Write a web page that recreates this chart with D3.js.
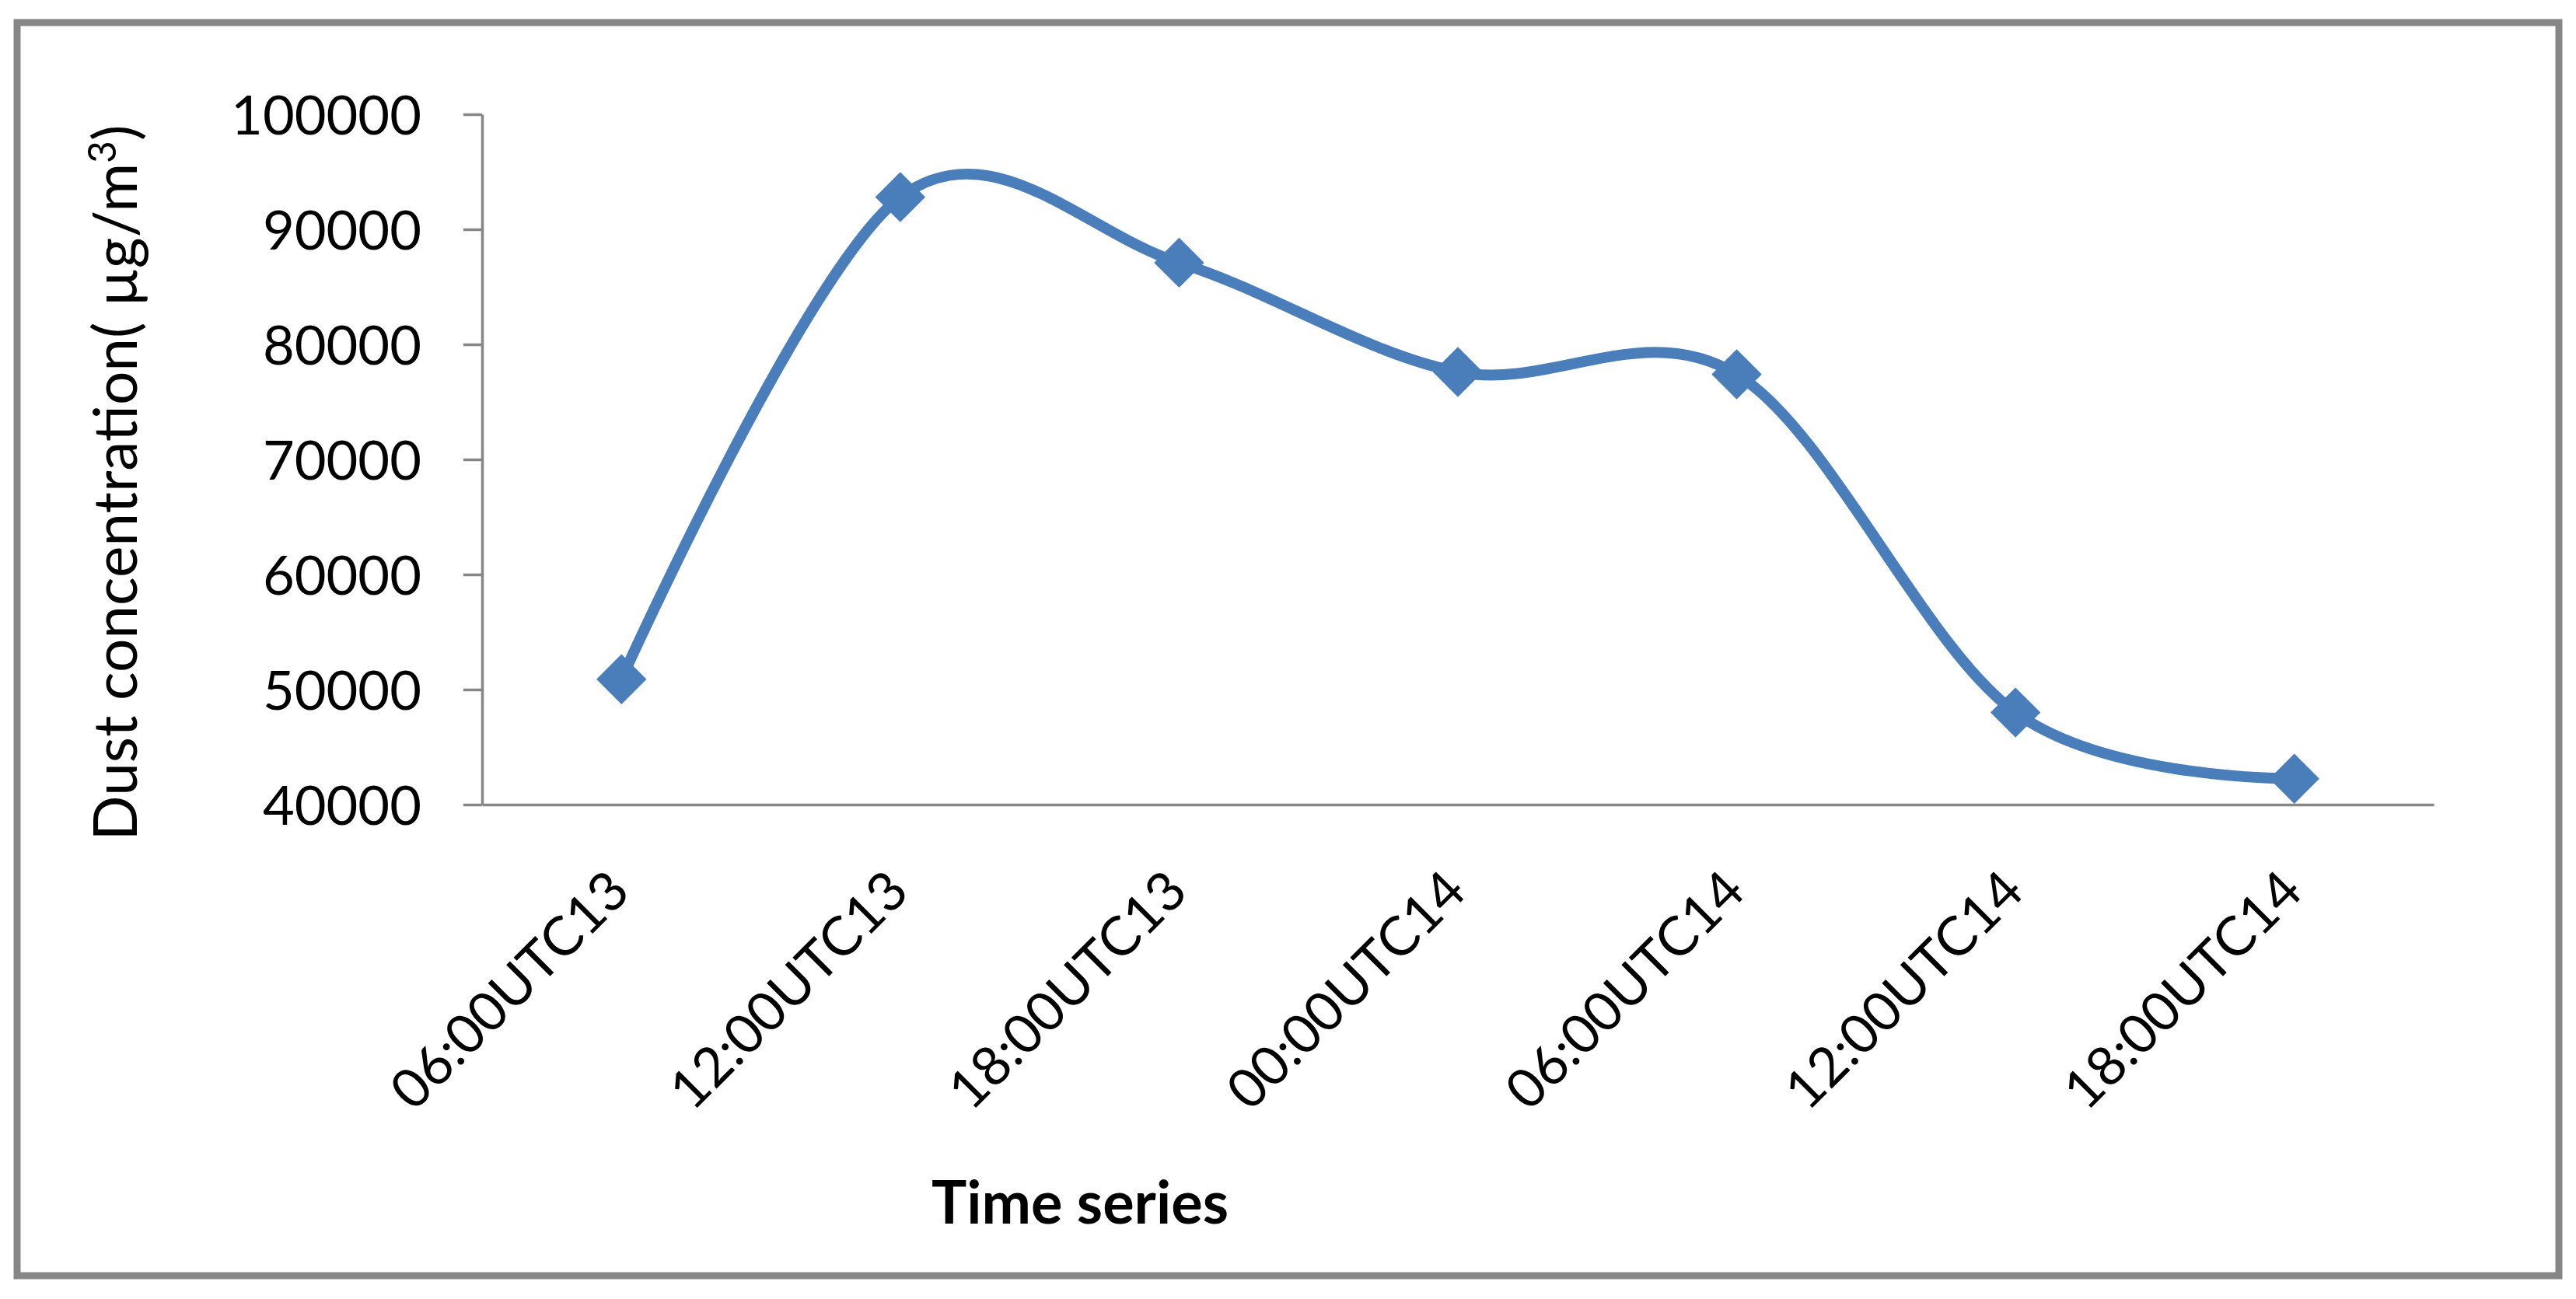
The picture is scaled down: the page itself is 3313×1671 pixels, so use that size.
<!DOCTYPE html>
<html>
<head>
<meta charset="utf-8">
<script src="https://cdn.jsdelivr.net/npm/d3@7"></script>
<style>
  html, body { margin: 0; padding: 0; background: #ffffff; }
  svg { display: block; }
</style>
</head>
<body>
<script>
// ---- data ----
const categories = ["06:00UTC13", "12:00UTC13", "18:00UTC13", "00:00UTC14", "06:00UTC14", "12:00UTC14", "18:00UTC14"];
const values = [50900, 92800, 87100, 77600, 77400, 48000, 42250];
const yTicks = [40000, 50000, 60000, 70000, 80000, 90000, 100000];
const yTitle = "Dust concentration( µg/m";
const yTitleSup = "3";
const yTitleEnd = ")";
const xTitle = "Time series";

// ---- layout ----
const W = 3313, H = 1671;
const plot = { left: 620, right: 3130, top: 147, bottom: 1035 };
const axisColor = "#868686";
const lineColor = "#4a7ebb";
const fontFam = "Lato, 'Open Sans', sans-serif";

const svg = d3.select("body").append("svg").attr("width", W).attr("height", H);
svg.append("rect").attr("width", W).attr("height", H).attr("fill", "#fff");

// outer frame
svg.append("rect")
  .attr("x", 22).attr("y", 29).attr("width", 3269).attr("height", 1612)
  .attr("fill", "none").attr("stroke", axisColor).attr("stroke-width", 9);

const x = d3.scaleBand().domain(categories).range([plot.left, plot.right]);
const y = d3.scaleLinear().domain([40000, 100000]).range([plot.bottom, plot.top]);

function fit(sel, target) {
  const len = sel.node().getComputedTextLength();
  const fs = parseFloat(sel.attr("font-size"));
  return fs * target / len;
}

// y axis
const yAxis = d3.axisLeft(y).tickValues(yTicks).tickSize(24).tickSizeOuter(0).tickPadding(54)
  .tickFormat(d3.format("d"));
const gy = svg.append("g").attr("transform", `translate(${plot.left},0)`).call(yAxis);
gy.select(".domain").attr("stroke", axisColor).attr("stroke-width", 3.5);
gy.selectAll(".tick line").attr("stroke", axisColor).attr("stroke-width", 3.5);
gy.selectAll(".tick text").attr("font-family", fontFam).attr("font-size", 70).attr("fill", "#000");
{
  const t = gy.selectAll(".tick text").filter(d => d === 100000);
  const fs = fit(t, 245);
  gy.selectAll(".tick text").attr("font-size", fs).attr("dy", "0.36em");
}

// x axis
const xAxis = d3.axisBottom(x).tickSize(0).tickSizeOuter(0);
const gx = svg.append("g").attr("transform", `translate(0,${plot.bottom})`).call(xAxis);
gx.select(".domain").attr("stroke", axisColor).attr("stroke-width", 3.5);
gx.selectAll(".tick text")
  .attr("font-family", fontFam).attr("font-size", 70).attr("fill", "#000")
  .attr("y", 0).attr("dy", 0).attr("text-anchor", "end")
  .attr("transform", "translate(14,115) rotate(-45)");
{
  const t = gx.selectAll(".tick text").filter((d, i) => i === 0);
  const fs = fit(t, 398);
  gx.selectAll(".tick text").attr("font-size", fs);
}

// series line
const pts = categories.map((c, i) => [x(c) + x.bandwidth() / 2, y(values[i])]);
svg.append("path")
  .attr("d", d3.line().curve(d3.curveCardinal.tension(0))(pts))
  .attr("fill", "none").attr("stroke", lineColor).attr("stroke-width", 14)
  .attr("stroke-linejoin", "round").attr("stroke-linecap", "round");

// markers (diamonds)
svg.append("g").selectAll("path").data(categories).join("path")
  .attr("d", d3.symbol(d3.symbolSquare, 1984)())
  .attr("transform", (c, i) => `translate(${x(c) + x.bandwidth() / 2},${y(values[i])}) rotate(45)`)
  .attr("fill", lineColor).attr("stroke", lineColor).attr("stroke-width", 1);

// y axis title
const yt = svg.append("text")
  .attr("transform", "translate(176,621) rotate(-90)")
  .attr("text-anchor", "middle")
  .attr("font-family", fontFam).attr("font-size", 80).attr("fill", "#000");
yt.append("tspan").text(yTitle);
yt.append("tspan").attr("font-size", "0.65em").attr("dy", "-0.55em").text(yTitleSup);
yt.append("tspan").attr("dy", "0.36em").text(yTitleEnd);
{
  const fs = fit(yt, 921);
  yt.attr("font-size", fs);
}

// x axis title
const xt = svg.append("text")
  .attr("x", 1389).attr("y", 1574)
  .attr("text-anchor", "middle")
  .attr("font-family", fontFam).attr("font-weight", "bold").attr("font-size", 80).attr("fill", "#000")
  .text(xTitle);
{
  const fs = fit(xt, 382);
  xt.attr("font-size", fs);
}
</script>
</body>
</html>
